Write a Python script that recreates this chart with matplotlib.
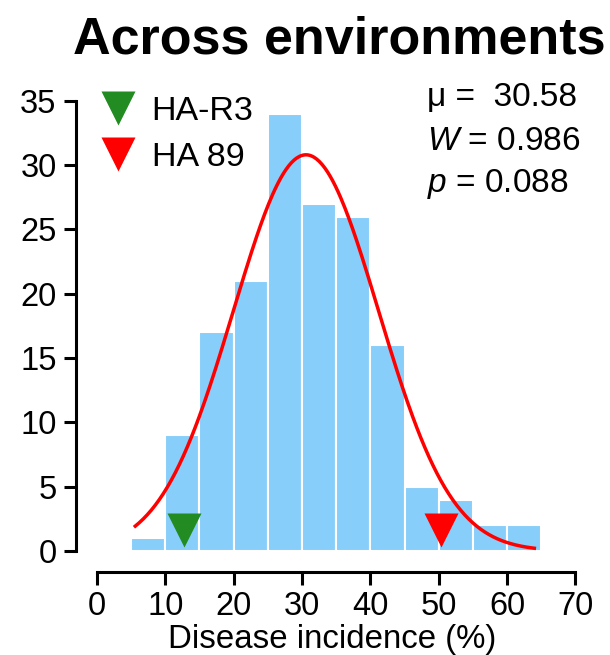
import numpy as np
import matplotlib
matplotlib.use("Agg")
import matplotlib.pyplot as plt
from matplotlib.lines import Line2D

plt.rcParams['font.family'] = ['Liberation Sans', 'DejaVu Sans']
plt.rcParams['mathtext.fontset'] = 'custom'
plt.rcParams['mathtext.it'] = 'Liberation Sans:italic'
plt.rcParams['mathtext.rm'] = 'Liberation Sans'

# histogram bins (disease incidence %) and counts
bin_edges = [5, 10, 15, 20, 25, 30, 35, 40, 45, 50, 55, 60, 65]
counts = [1, 9, 17, 21, 34, 27, 26, 16, 5, 4, 2, 2]

# normal fit
mu = 30.58
sd = 10.62
x_min, x_max = 5.6, 64.0

# check lines
check_names = ["HA-R3", "HA 89"]
check_x = [12.8, 50.4]
check_y = [1.65, 1.65]
check_colors = ["#228B22", "#FF0000"]

stats_lines = [r"μ =  30.58", r"$W$ = 0.986", r"$p$ = 0.088"]

fig = plt.figure(figsize=(6.1, 6.55), dpi=100)
ax = fig.add_axes([0.1246, 0.1267, 0.841, 0.739])

lefts = bin_edges[:-1]
widths = np.diff(bin_edges)
ax.bar(lefts, counts, width=widths, align='edge', color='#87CEFA',
       edgecolor='white', linewidth=1.5, zorder=1)

n = sum(counts)
bw = widths[0]
xs = np.linspace(x_min, x_max, 300)
ys = n * bw / (sd * np.sqrt(2 * np.pi)) * np.exp(-0.5 * ((xs - mu) / sd) ** 2)
ax.plot(xs, ys, color='red', lw=2.5, zorder=2)

for xv, yv, c in zip(check_x, check_y, check_colors):
    ax.plot(xv, yv, marker='v', ms=25, color=c, mec='none', zorder=3)

ax.set_xlim(-3.07, 72)
ax.set_ylim(-1.63, 36)
ax.set_xticks(range(0, 71, 10))
ax.set_yticks(range(0, 36, 5))
for s in ['top', 'right']:
    ax.spines[s].set_visible(False)
ax.spines['left'].set_bounds(0, 35)
ax.spines['bottom'].set_bounds(0, 70)
ax.spines['left'].set_linewidth(2.2)
ax.spines['bottom'].set_linewidth(2.2)
ax.tick_params(axis='both', length=9, width=2.2, labelsize=23.5, pad=5)
ax.set_xlabel("Disease incidence (%)", fontsize=23.8, labelpad=1)

handles = [Line2D([], [], marker='v', ms=25, color=c, mec='none', ls='none')
           for c in check_colors]
ax.legend(handles, check_names, loc='upper left', bbox_to_anchor=(0.005, 1.012),
          frameon=False, fontsize=24.5, handletextpad=0.25, labelspacing=0.45,
          borderaxespad=0.0, handlelength=1.5)

for i, t in enumerate(stats_lines):
    fig.text(427 / 610, 1 - (98 + i * 43) / 655, t, fontsize=24,
             ha='left', va='center')

fig.text(339 / 610, 1 - 40 / 655, "Across environments", fontsize=37.5,
         fontweight='bold', ha='center', va='center')

fig.savefig("out.png", dpi=100)
